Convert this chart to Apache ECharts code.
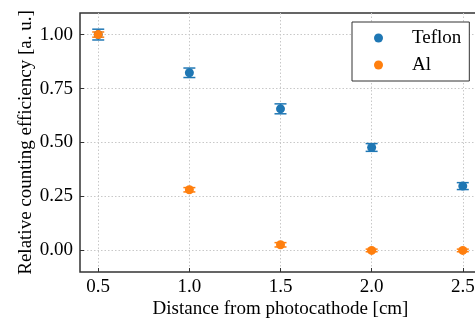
<!DOCTYPE html>
<html>
<head>
<meta charset="utf-8">
<script src="https://cdn.jsdelivr.net/npm/echarts@6/dist/echarts.min.js"></script>
<style>
  html, body { margin: 0; padding: 0; background: #fff; }
  #chart { width: 475px; height: 320px; }
</style>
</head>
<body>
<div id="chart"></div>
<script>
// distances from photocathode [cm]
const distances = [0.5, 1.0, 1.5, 2.0, 2.5]
const teflonEff = [1.0, 0.823, 0.656, 0.477, 0.298]
const teflonErr = [0.025, 0.022, 0.023, 0.018, 0.016]
const alEff = [1.0, 0.281, 0.026, 0.0, 0.0]
const alErr = [0.012, 0.01, 0.01, 0.006, 0.006]
const xTicks = [0.5, 1.0, 1.5, 2.0, 2.5]
const yTicks = [0.0, 0.25, 0.5, 0.75, 1.0]

const BLUE = '#1f77b4'
const ORANGE = '#ff7f0e'
const FONT = '"Liberation Serif", "DejaVu Serif", serif'

function errorBarSeries(name, color, ys, errs) {
  return {
    name: name + ' err',
    type: 'custom',
    silent: true,
    data: distances.map((x, i) => [x, ys[i], errs[i]]),
    renderItem: (params, api) => {
      const x = api.value(0)
      const y = api.value(1)
      const e = api.value(2)
      const top = api.coord([x, y + e])
      const bot = api.coord([x, y - e])
      const cap = 6
      const style = { stroke: color, lineWidth: 1.5 }
      return {
        type: 'group',
        children: [
          { type: 'line', shape: { x1: top[0], y1: top[1], x2: bot[0], y2: bot[1] }, style },
          { type: 'line', shape: { x1: top[0] - cap, y1: top[1], x2: top[0] + cap, y2: top[1] }, style },
          { type: 'line', shape: { x1: bot[0] - cap, y1: bot[1], x2: bot[0] + cap, y2: bot[1] }, style },
        ],
      }
    },
    z: 2,
  }
}

const chart = echarts.init(document.getElementById('chart'))
chart.setOption({
  animation: false,
  textStyle: { fontFamily: FONT },
  grid: {
    left: 80, top: 13, width: 401, height: 259,
    outerBoundsMode: 'none', containLabel: false,
    show: true, borderColor: '#333', borderWidth: 1.5, backgroundColor: 'transparent',
  },
  legend: {
    orient: 'vertical',
    left: 352, top: 22,
    padding: [6, 8, 6, 22],
    itemGap: 7,
    itemWidth: 9, itemHeight: 9,
    borderColor: '#333', borderWidth: 1,
    backgroundColor: '#fff',
    data: [
      { name: 'Teflon', icon: 'circle', itemStyle: { color: BLUE } },
      { name: 'Al', icon: 'circle', itemStyle: { color: ORANGE } },
    ],
    textStyle: { fontFamily: FONT, fontSize: 19, color: '#000', padding: [0, 0, 0, 24], lineHeight: 20 },
  },
  xAxis: {
    type: 'value',
    min: 0.4, max: 2.6,
    name: 'Distance from photocathode [cm]',
    nameLocation: 'middle', nameGap: 28, nameMoveOverlap: false,
    nameTextStyle: { fontFamily: FONT, fontSize: 19, color: '#000' },
    axisLine: { show: false, onZero: false },
    axisTick: { show: true, inside: true, length: 4, customValues: xTicks, lineStyle: { color: '#333' } },
    axisLabel: {
      customValues: xTicks, margin: 6,
      fontFamily: FONT, fontSize: 19, color: '#000',
      formatter: v => v.toFixed(1),
    },
    splitLine: { show: true, lineStyle: { color: '#c8c8c8', type: [1.5, 2], width: 1 } },
  },
  yAxis: {
    type: 'value',
    min: -0.1, max: 1.1,
    name: 'Relative counting efficiency [a. u.]',
    nameLocation: 'middle', nameGap: 44, nameMoveOverlap: false,
    nameTextStyle: { fontFamily: FONT, fontSize: 19, color: '#000' },
    axisLine: { show: false, onZero: false },
    axisTick: { show: true, inside: true, length: 4, customValues: yTicks, lineStyle: { color: '#333' } },
    axisLabel: {
      customValues: yTicks, margin: 7,
      fontFamily: FONT, fontSize: 19, color: '#000',
      formatter: v => v.toFixed(2),
    },
    splitLine: { show: true, lineStyle: { color: '#c8c8c8', type: [1.5, 2], width: 1 } },
  },
  series: [
    errorBarSeries('Teflon', BLUE, teflonEff, teflonErr),
    {
      name: 'Teflon', type: 'scatter', symbol: 'circle', symbolSize: 9,
      itemStyle: { color: BLUE, opacity: 1 },
      data: distances.map((x, i) => [x, teflonEff[i]]), z: 3,
    },
    errorBarSeries('Al', ORANGE, alEff, alErr),
    {
      name: 'Al', type: 'scatter', symbol: 'circle', symbolSize: 9,
      itemStyle: { color: ORANGE, opacity: 1 },
      data: distances.map((x, i) => [x, alEff[i]]), z: 5,
    },
  ],
})
</script>
</body>
</html>
